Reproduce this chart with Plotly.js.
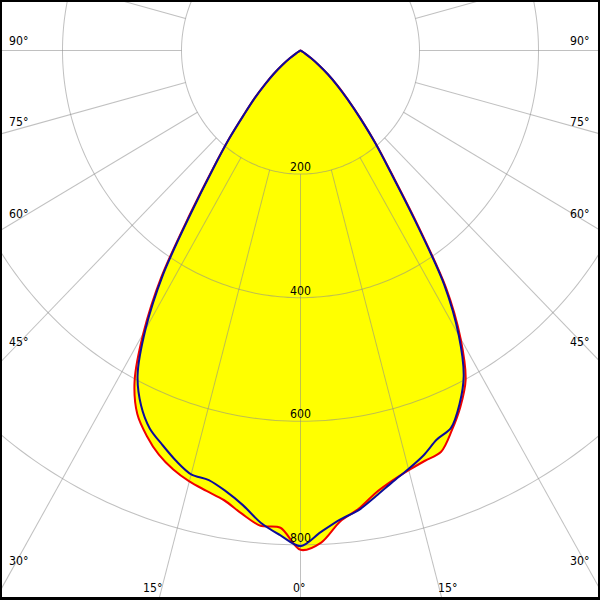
<!DOCTYPE html>
<html><head><meta charset="utf-8">
<script src="https://cdn.plot.ly/plotly-3.0.1.min.js"></script>
<style>
html,body{margin:0;padding:0;background:#fff;overflow:hidden;width:600px;height:600px;}
#wrap{position:absolute;left:0;top:0;width:600px;height:600px;overflow:hidden;background:#fff;}
#plot{position:absolute;}
#frame{position:absolute;left:0;top:0;width:600px;height:600px;box-sizing:border-box;border-style:solid;border-color:#000;border-width:2px 2px 3px 2px;pointer-events:none;}
</style></head><body>
<div id="wrap"><div id="plot"></div><div id="frame"></div></div>
<script>
// Gamma angles (degrees from nadir) shared by all half-curves
const angles = [0,2.5,5,7.5,10,12.5,15,17.5,20,22.5,25,27.5,30,32.5,35,37.5,40,42.5,45,47.5,50,52.5,55,57.5,60,62.5,65,67.5,70,72.5,75,77.5,80,82.5,85,87.5,90];
// Luminous intensity (cd/klm) – red plane (C0 right / C180 left)
const redRight = [808,797,765,748,727,713,703,696,691,665,636,601,538,455,340,253,197,150,113,85,61,39,22,10,3,0,0,0,0,0,0,0,0,0,0,0,0];
const redLeft  = [808,773,772,756,739,730,722,711,696,675,649,604,528,436,325,244,188,141,109,81,59,39,22,10,3,0,0,0,0,0,0,0,0,0,0,0,0];
// Blue plane (C90 right / C270 left)
const blueRight = [802,780,762,750,732,715,701,687,670,661,632,594,532,450,335,250,195,148,112,84,60,38,22,10,3,0,0,0,0,0,0,0,0,0,0,0,0];
const blueLeft  = [802,785,767,742,724,712,710,696,679,662,634,593,521,430,320,242,187,140,108,80,58,38,22,10,3,0,0,0,0,0,0,0,0,0,0,0,0];
// Grid
const gridRadii = [200,400,600,800];
const radialLabels = ['200','400','600','800'];
const rayAngles = [0,15,30,45,60,75,90,105,120,135,150,165,180,195,210,225,240,255,270,285,300,315,330,345];
const angleLabels = ['90°','75°','60°','45°','30°','15°','0°'];

// geometry
const RMAX = 1100, SX = 0.595, SY = 0.618, CX = 300, CY = 50.5;
const HALF = SX*RMAX, S = 2*HALF, K = SY/SX;
const L = CX - HALF, T = CY - HALF;
const plotDiv = document.getElementById('plot');
plotDiv.style.left = L+'px'; plotDiv.style.top = T+'px';
plotDiv.style.width = S+'px'; plotDiv.style.height = S+'px';
plotDiv.style.transformOrigin = '50% 50%';
plotDiv.style.transform = 'scaleY('+K+')';

function keep(arr, i){ return arr[i] > 0 || (i > 0 && arr[i-1] > 0); }
function curve(leftArr, rightArr){
  const th=[], r=[];
  for(let i=angles.length-1;i>0;i--){ if(keep(leftArr,i)){th.push(-angles[i]); r.push(leftArr[i]);} }
  for(let i=0;i<angles.length;i++){ if(keep(rightArr,i)){th.push(angles[i]); r.push(rightArr[i]);} }
  return {th, r};
}
const red = curve(redLeft, redRight);
const blue = curve(blueLeft, blueRight);

// grid traces
const cr=[], ct=[];
gridRadii.forEach(g=>{ for(let a=0;a<=360;a+=1){cr.push(g); ct.push(a);} cr.push(null); ct.push(null); });
const rr=[], rt=[];
rayAngles.forEach(a=>{ rr.push(200, RMAX); rt.push(a, a); rr.push(null); rt.push(null); });

const GRID = 'rgba(140,140,140,0.55)';
const FONT = {family:'DejaVu Sans, Verdana, sans-serif', size:11, color:'#000'};
const SM = 0.9;

const traces = [
  {type:'scatterpolar', r:red.r, theta:red.th, mode:'lines', fill:'toself', fillcolor:'#ffff00', line:{width:0, shape:'spline', smoothing:SM, color:'rgba(0,0,0,0)'}, hoverinfo:'skip'},
  {type:'scatterpolar', r:blue.r, theta:blue.th, mode:'lines', fill:'toself', fillcolor:'#ffff00', line:{width:0, shape:'spline', smoothing:SM, color:'rgba(0,0,0,0)'}, hoverinfo:'skip'},
  {type:'scatterpolar', r:cr, theta:ct, mode:'lines', line:{color:GRID, width:1}, hoverinfo:'skip'},
  {type:'scatterpolar', r:rr, theta:rt, mode:'lines', line:{color:GRID, width:1}, hoverinfo:'skip'},
  {type:'scatterpolar', r:red.r, theta:red.th, mode:'lines', line:{color:'#f00000', width:2, shape:'spline', smoothing:SM}, name:'C0-C180'},
  {type:'scatterpolar', r:blue.r, theta:blue.th, mode:'lines', line:{color:'#0c0c9c', width:2, shape:'spline', smoothing:SM}, name:'C90-C270'},
  {type:'scatterpolar', r:gridRadii, theta:gridRadii.map(()=>0), mode:'text', text:radialLabels, textposition:'top center', textfont:FONT, cliponaxis:false, hoverinfo:'skip'}
];

function P(px, py){ return {x:(px-L)/S, y:1-(HALF+(py-CY)/K)/S}; }
const leftY = [41,122,215,342,561];
const ann = [];
for(let i=0;i<5;i++){
  const a=P(7,leftY[i]); ann.push({xref:'paper',yref:'paper',x:a.x,y:a.y,xanchor:'left',yanchor:'middle',text:angleLabels[i],showarrow:false,font:FONT});
  const b=P(591,leftY[i]); ann.push({xref:'paper',yref:'paper',x:b.x,y:b.y,xanchor:'right',yanchor:'middle',text:angleLabels[i],showarrow:false,font:FONT});
}
[[152,'15°'],[299,'0°'],[447,'15°']].forEach(([x,t])=>{const a=P(x,589); ann.push({xref:'paper',yref:'paper',x:a.x,y:a.y,xanchor:'center',yanchor:'middle',text:t,showarrow:false,font:FONT});});

const layout = {
  width:S, height:S, autosize:false, showlegend:false,
  margin:{l:0,r:0,t:0,b:0,pad:0},
  paper_bgcolor:'#fff',
  polar:{
    domain:{x:[0,1],y:[0,1]}, bgcolor:'#fff',
    radialaxis:{range:[0,RMAX], showgrid:false, showline:false, showticklabels:false, ticks:''},
    angularaxis:{rotation:-90, direction:'counterclockwise', showgrid:false, showline:false, showticklabels:false, ticks:''}
  },
  annotations:ann
};
Plotly.newPlot(plotDiv, traces, layout, {displayModeBar:false, staticPlot:true});
</script>
</body></html>
